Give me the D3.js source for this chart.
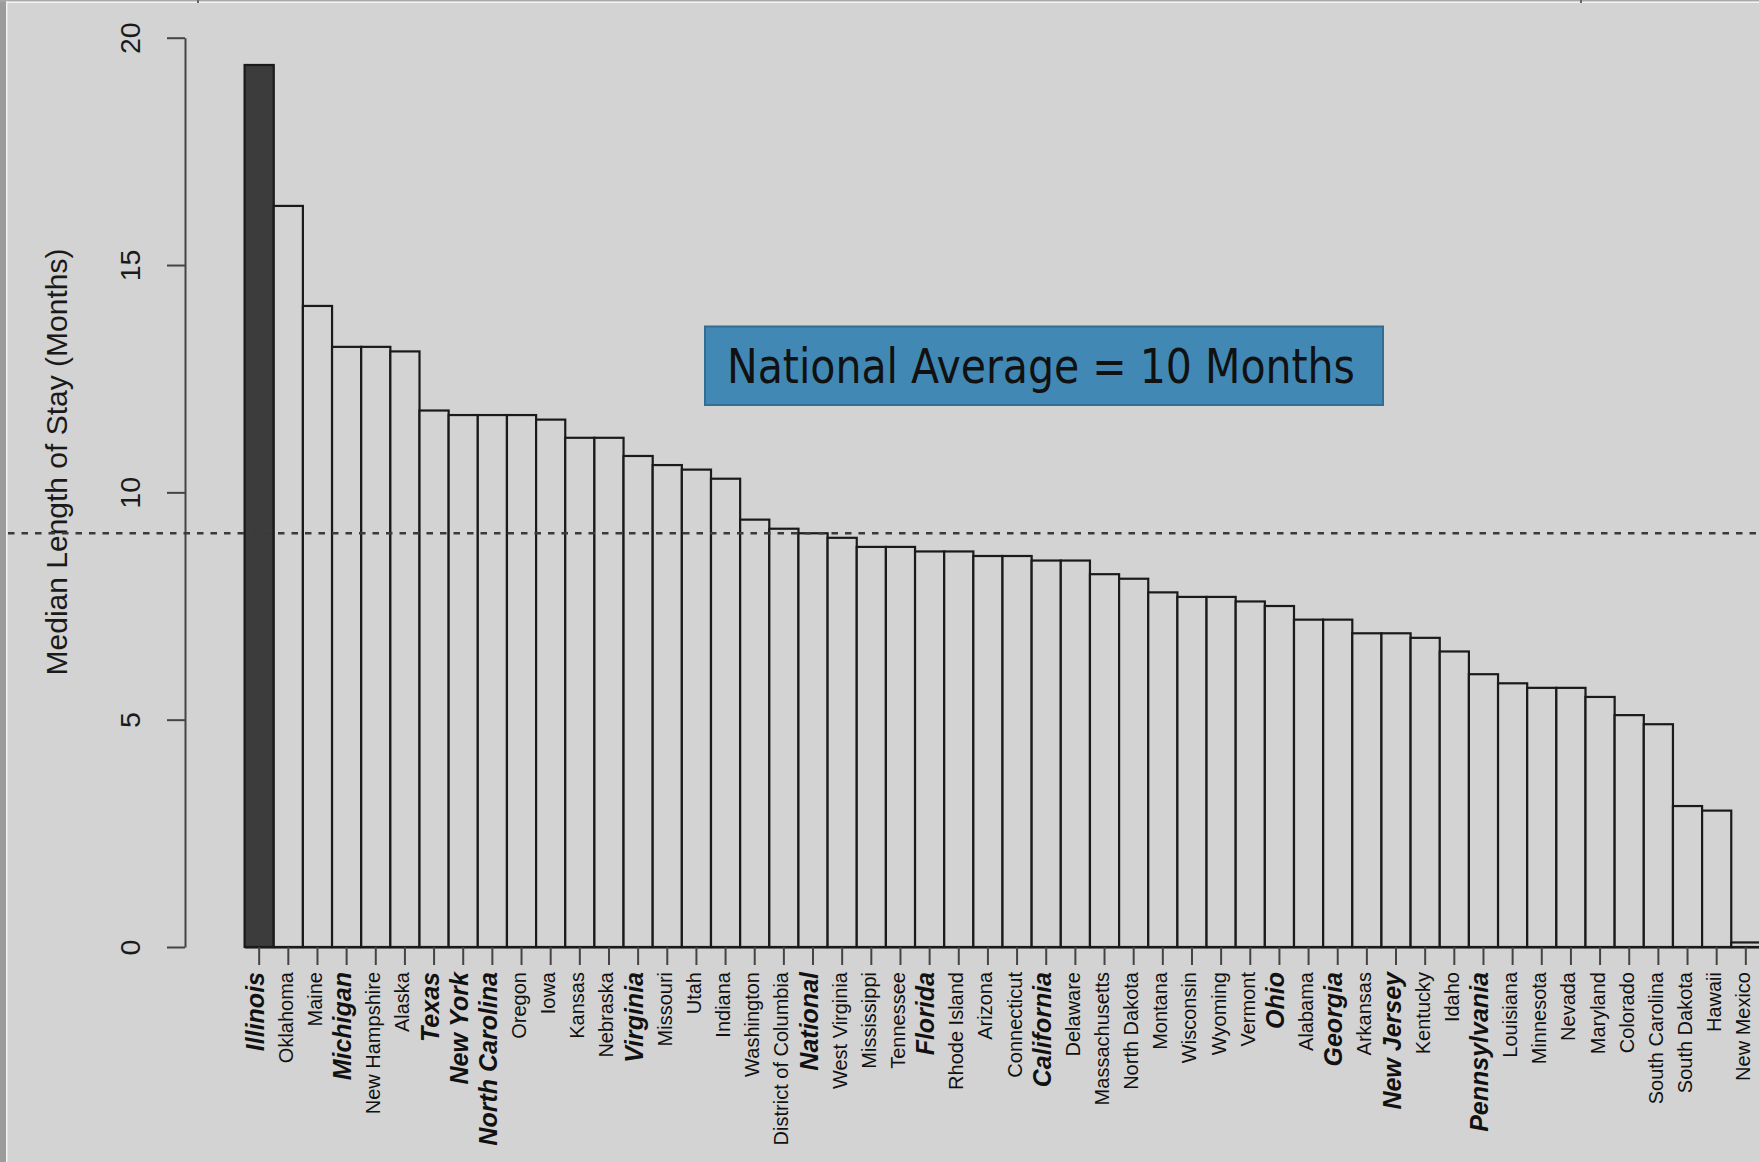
<!DOCTYPE html>
<html>
<head>
<meta charset="utf-8">
<script src="https://cdn.jsdelivr.net/npm/d3@7"></script>
<style>
  html, body { margin: 0; padding: 0; background: #d3d3d3; }
  svg { display: block; }
</style>
</head>
<body>
<svg id="chart"></svg>
<script>
(function(){

  // data
  const states = ["Illinois","Oklahoma","Maine","Michigan","New Hampshire","Alaska","Texas","New York",
    "North Carolina","Oregon","Iowa","Kansas","Nebraska","Virginia","Missouri","Utah","Indiana",
    "Washington","District of Columbia","National","West Virginia","Mississippi","Tennessee","Florida",
    "Rhode Island","Arizona","Connecticut","California","Delaware","Massachusetts","North Dakota",
    "Montana","Wisconsin","Wyoming","Vermont","Ohio","Alabama","Georgia","Arkansas","New Jersey",
    "Kentucky","Idaho","Pennsylvania","Louisiana","Minnesota","Nevada","Maryland","Colorado",
    "South Carolina","South Dakota","Hawaii","New Mexico"];
  const medianStay = [19.4,16.3,14.1,13.2,13.2,13.1,11.8,11.7,11.7,11.7,11.6,11.2,11.2,10.8,10.6,10.5,10.3,
    9.4,9.2,9.1,9.0,8.8,8.8,8.7,8.7,8.6,8.6,8.5,8.5,8.2,8.1,7.8,7.7,7.7,7.6,7.5,7.2,7.2,6.9,6.9,
    6.8,6.5,6.0,5.8,5.7,5.7,5.5,5.1,4.9,3.1,3.0,0.1];
  const boldStates = ["Illinois","Michigan","Texas","New York","North Carolina","Virginia","National",
    "Florida","California","Ohio","Georgia","New Jersey","Pennsylvania"];
  const darkBar = ["Illinois"];
  const yTicks = [0, 5, 10, 15, 20];
  const dashedLineValue = [9.1];
  const yTitle = "Median Length of Stay (Months)";
  const noteText = "National Average = 10 Months";

  const width = 1759, height = 1162;

  const svg = d3.select("#chart")
    .attr("width", width)
    .attr("height", height);

  svg.append("rect").attr("width", width).attr("height", height).attr("fill", "#d3d3d3");

  // slide frame edges
  svg.append("rect").attr("x", 0).attr("y", 0).attr("width", 6).attr("height", height).attr("fill", "#9c9c9c");
  svg.append("rect").attr("x", 6).attr("y", 0).attr("width", 1.5).attr("height", height).attr("fill", "#f2f2f2");
  svg.append("rect").attr("x", 0).attr("y", 0).attr("width", width).attr("height", 1.5).attr("fill", "#a8a8a8");
  svg.append("rect").attr("x", 6).attr("y", 1.5).attr("width", width).attr("height", 1.5).attr("fill", "#f2f2f2");
  [197, 1580].forEach(x => {
    svg.append("rect").attr("x", x).attr("y", 0).attr("width", 2).attr("height", 3).attr("fill", "#666");
  });

  // scales
  const xScale = d3.scaleBand().domain(states).range([244.6, 244.6 + 52 * 29.15]).padding(0);
  const yScale = d3.scaleLinear().domain([0, 20]).range([947, 37.7]);

  // bars
  svg.append("g").selectAll("rect")
    .data(states)
    .enter()
    .append("rect")
      .attr("x", d => xScale(d))
      .attr("width", xScale.bandwidth())
      .attr("y", (d, i) => yScale(medianStay[i]))
      .attr("height", (d, i) => yScale(0) - yScale(medianStay[i]))
      .attr("fill", d => darkBar.includes(d) ? "#3c3c3c" : "#d3d3d3")
      .attr("stroke", "#1a1a1a")
      .attr("stroke-width", 2.2);

  // y axis
  const yAxis = d3.axisLeft(yScale).tickValues(yTicks).tickSize(18).tickSizeOuter(0).tickPadding(0);
  const gy = svg.append("g").attr("transform", "translate(185,0)").call(yAxis);
  gy.select(".domain").attr("stroke", "#444").attr("stroke-width", 2);
  gy.selectAll(".tick line").attr("stroke", "#444").attr("stroke-width", 2);
  gy.selectAll(".tick text")
    .attr("x", 0).attr("dy", null)
    .attr("transform", "translate(-45,0) rotate(-90)")
    .attr("text-anchor", "middle")
    .attr("fill", "#1a1a1a")
    .style("font", "28.5px 'Liberation Sans', Arial, sans-serif");

  svg.append("text")
    .attr("transform", "translate(67,462) rotate(-90)")
    .attr("text-anchor", "middle")
    .attr("fill", "#1a1a1a")
    .style("font", "30px 'Liberation Sans', Arial, sans-serif")
    .text(yTitle);

  // x axis with state names
  const xAxis = d3.axisBottom(xScale).tickSize(18).tickSizeOuter(0).tickPadding(0);
  const gx = svg.append("g").attr("transform", "translate(0,947)").call(xAxis);
  gx.select(".domain").attr("stroke", "#1a1a1a").attr("stroke-width", 2);
  gx.selectAll(".tick line").attr("stroke", "#444").attr("stroke-width", 2);
  gx.selectAll(".tick text")
    .attr("y", 0).attr("dy", null)
    .attr("transform", "translate(4.5,25) rotate(-90)")
    .attr("text-anchor", "end")
    .attr("fill", "#111")
    .style("font-family", "'Liberation Sans', Arial, sans-serif")
    .style("font-size", d => boldStates.includes(d) ? "25px" : "20px")
    .style("font-weight", d => boldStates.includes(d) ? "bold" : "normal")
    .style("font-style", d => boldStates.includes(d) ? "italic" : "normal");

  // dashed reference line
  svg.append("g").selectAll("line")
    .data(dashedLineValue)
    .enter()
    .append("line")
      .attr("x1", 8).attr("x2", width)
      .attr("y1", d => yScale(d)).attr("y2", d => yScale(d))
      .attr("stroke", "#3a3a3a")
      .attr("stroke-width", 2.5)
      .attr("stroke-dasharray", "6.5,7");

  // annotation box
  svg.append("rect")
    .attr("x", 705).attr("y", 326.5)
    .attr("width", 678).attr("height", 78.5)
    .attr("fill", "#4189b4")
    .attr("stroke", "#336d92")
    .attr("stroke-width", 2);

  svg.append("text")
    .attr("x", 727).attr("y", 383)
    .attr("textLength", 628)
    .attr("lengthAdjust", "spacingAndGlyphs")
    .attr("fill", "#111")
    .style("font", "48px 'DejaVu Sans Condensed', 'DejaVu Sans', sans-serif")
    .text(noteText);

})();
</script>
</body>
</html>
